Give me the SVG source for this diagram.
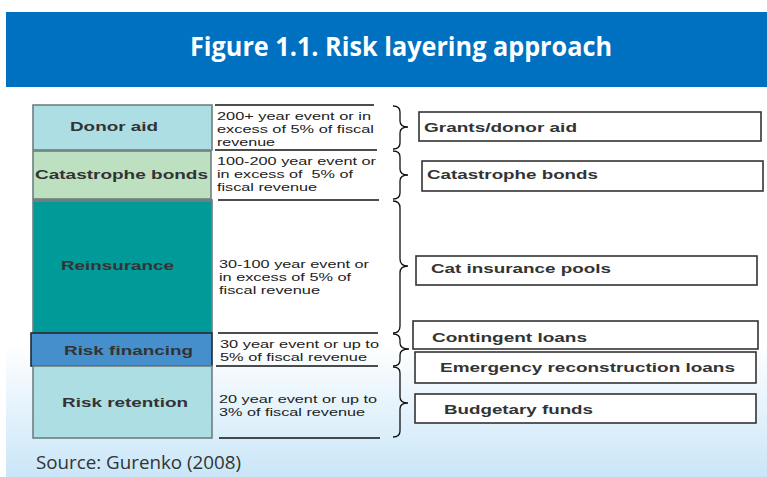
<svg xmlns="http://www.w3.org/2000/svg" width="767" height="477" viewBox="0 0 767 477">
<defs>
<linearGradient id="bg" x1="0" y1="87" x2="0" y2="477" gradientUnits="userSpaceOnUse">
<stop offset="0" stop-color="#ffffff"/>
<stop offset="0.66" stop-color="#ffffff"/>
<stop offset="1" stop-color="#c9e6f8"/>
</linearGradient>
<style>
.lbl{font-family:"Liberation Sans",Arial,sans-serif;font-weight:bold;font-size:13px;fill:#333333}
.mid{font-family:"Liberation Sans",Arial,sans-serif;font-size:11px;fill:#222222}
.rb{fill:#ffffff;stroke:#333333;stroke-width:1.6}
.sep{stroke:#111111;stroke-width:1.3;fill:none}
.brace{stroke:#111111;stroke-width:1.3;fill:none}
.layer{stroke:#6f7f80;stroke-width:1.6}
</style>
</defs>
<rect x="6" y="87" width="761" height="390" fill="url(#bg)"/>
<g id="header">
<rect x="6" y="12" width="761" height="75" fill="#0070c0"/>
<text x="190" y="56" font-family="'Open Sans',sans-serif" font-weight="bold" font-size="27" fill="#ffffff" textLength="422" lengthAdjust="spacingAndGlyphs">Figure 1.1. Risk layering approach</text>
</g>
<g id="layer-donor"><rect class="layer" x="33" y="105" width="179" height="45" fill="#addee3"/><text class="lbl" x="70" y="131" textLength="88" lengthAdjust="spacingAndGlyphs">Donor aid</text></g>
<g id="layer-catbonds"><rect class="layer" x="33" y="151" width="178" height="48" fill="#bde0c1"/><text class="lbl" x="35" y="179" textLength="173" lengthAdjust="spacingAndGlyphs">Catastrophe bonds</text></g>
<g id="layer-reins"><rect class="layer" x="33" y="200" width="179" height="133" fill="#009b98"/><line x1="33" y1="200.5" x2="212" y2="200.5" stroke="#6f7f80" stroke-width="3"/><text class="lbl" x="61" y="270" textLength="113" lengthAdjust="spacingAndGlyphs">Reinsurance</text></g>
<g id="layer-fin"><rect x="31" y="333" width="181" height="33" fill="#4590cc" stroke="#1c2a3a" stroke-width="1.6"/><text class="lbl" x="64" y="355" textLength="129" lengthAdjust="spacingAndGlyphs">Risk financing</text></g>
<g id="layer-ret"><rect class="layer" x="33" y="366" width="179" height="72" fill="#addee3"/><text class="lbl" x="62" y="407" textLength="126" lengthAdjust="spacingAndGlyphs">Risk retention</text></g>
<g id="thresholds">
<line class="sep" x1="215" y1="105" x2="374" y2="105"/>
<line class="sep" x1="215" y1="150" x2="377" y2="150"/>
<line class="sep" x1="218" y1="200" x2="379" y2="200"/>
<line class="sep" x1="218" y1="333" x2="378" y2="333"/>
<line class="sep" x1="216" y1="366" x2="378" y2="366"/>
<line class="sep" x1="219" y1="438" x2="380" y2="438"/>
<text class="mid" x="217" y="120" textLength="154" lengthAdjust="spacingAndGlyphs">200+ year event or in</text>
<text class="mid" x="217" y="133" textLength="157" lengthAdjust="spacingAndGlyphs">excess of 5% of fiscal</text>
<text class="mid" x="217" y="146" textLength="58" lengthAdjust="spacingAndGlyphs">revenue</text>
<text class="mid" x="217" y="165" textLength="159" lengthAdjust="spacingAndGlyphs">100-200 year event or</text>
<text class="mid" x="217" y="178" textLength="136" lengthAdjust="spacingAndGlyphs" xml:space="preserve">in excess of  5% of</text>
<text class="mid" x="217" y="191" textLength="100" lengthAdjust="spacingAndGlyphs">fiscal revenue</text>
<text class="mid" x="219" y="268" textLength="150" lengthAdjust="spacingAndGlyphs">30-100 year event or</text>
<text class="mid" x="219" y="281" textLength="132" lengthAdjust="spacingAndGlyphs">in excess of 5% of</text>
<text class="mid" x="219" y="294" textLength="101" lengthAdjust="spacingAndGlyphs">fiscal revenue</text>
<text class="mid" x="220" y="348" textLength="159" lengthAdjust="spacingAndGlyphs">30 year event or up to</text>
<text class="mid" x="220" y="361" textLength="147" lengthAdjust="spacingAndGlyphs">5% of fiscal revenue</text>
<text class="mid" x="219" y="403" textLength="158" lengthAdjust="spacingAndGlyphs">20 year event or up to</text>
<text class="mid" x="219" y="416" textLength="146" lengthAdjust="spacingAndGlyphs">3% of fiscal revenue</text>
</g>
<g id="connectors">
<path class="brace" d="M393,106 Q400,106 400,112 L400,121 Q400,127 408,127 Q400,127 400,133 L400,143 Q400,149 393,149"/>
<path class="brace" d="M393,151 Q400,151 400,157 L400,169 Q400,175 408,175 Q400,175 400,181 L400,193 Q400,199 393,199"/>
<path class="brace" d="M393,201 Q400,201 400,208 L400,259 Q400,266 408,266 Q400,266 400,273 L400,326 Q400,333 393,333"/>
<path class="brace" d="M393,334 Q400,334 400,340 L400,343 Q400,349 409,349 Q400,349 400,355 L400,360 Q400,366 393,366"/>
<path class="brace" d="M393,367 Q400,367 400,373 L400,397 Q400,403 408,403 Q400,403 400,409 L400,431 Q400,437 393,437"/>
</g>
<g id="inst-grants"><rect class="rb" x="419" y="112" width="342" height="29"/><text class="lbl" x="424" y="132" textLength="153" lengthAdjust="spacingAndGlyphs">Grants/donor aid</text></g>
<g id="inst-catbonds"><rect class="rb" x="422" y="161" width="341" height="30"/><text class="lbl" x="427" y="179" textLength="171" lengthAdjust="spacingAndGlyphs">Catastrophe bonds</text></g>
<g id="inst-pools"><rect class="rb" x="416" y="256" width="341" height="29"/><text class="lbl" x="431" y="273" textLength="180" lengthAdjust="spacingAndGlyphs">Cat insurance pools</text></g>
<g id="inst-contingent"><rect class="rb" x="413" y="321" width="345" height="28"/><text class="lbl" x="432" y="342" textLength="155" lengthAdjust="spacingAndGlyphs">Contingent loans</text></g>
<g id="inst-emergency"><rect class="rb" x="415" y="352" width="341" height="31"/><text class="lbl" x="440" y="372" textLength="295" lengthAdjust="spacingAndGlyphs">Emergency reconstruction loans</text></g>
<g id="inst-budget"><rect class="rb" x="415" y="394" width="341" height="29" fill="#f2f9fe"/><text class="lbl" x="444" y="414" textLength="149" lengthAdjust="spacingAndGlyphs">Budgetary funds</text></g>
<text x="36" y="469" font-family="'Open Sans',sans-serif" font-size="18.5" fill="#333333" textLength="205" lengthAdjust="spacingAndGlyphs">Source: Gurenko (2008)</text>
</svg>
